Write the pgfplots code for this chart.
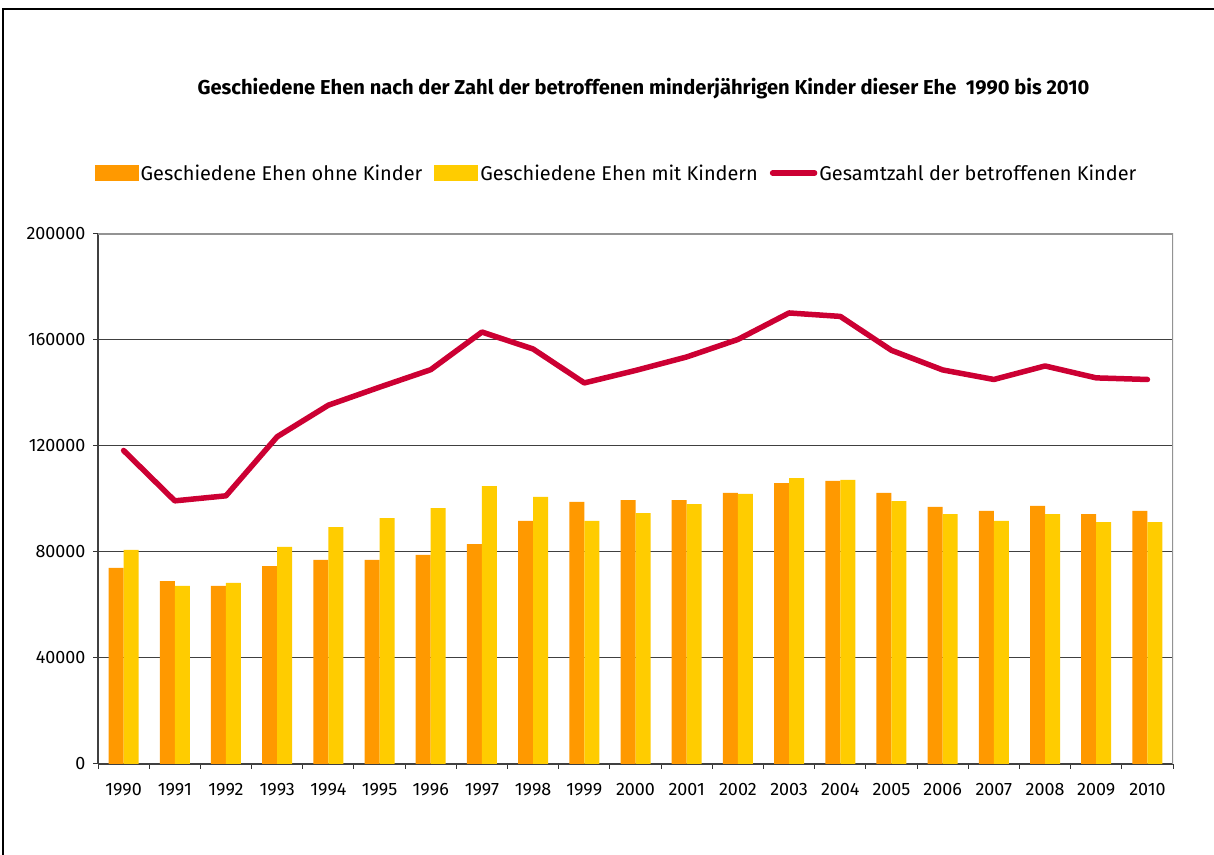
\documentclass[border=0pt]{standalone}
\usepackage{pgfplots}
\pgfplotsset{compat=1.18}
\usepackage{fontspec}
\setmainfont{Fira Sans}
\definecolor{cOr}{HTML}{FF9900}
\definecolor{cYe}{HTML}{FFCC00}
\definecolor{cRed}{HTML}{CC0033}
\begin{document}
\begin{tikzpicture}[x=1bp,y=1bp]
\useasboundingbox (0,0) rectangle (1214,855);
\fill[white] (0,0) rectangle (1214,855);
\draw[black, line width=1.8bp] (3,0) -- (3,846) -- (1214,846);
\node[font=\fontsize{20.2}{24}\selectfont\bfseries] at (643.5,766) {Geschiedene Ehen nach der Zahl der betroffenen minderjährigen Kinder dieser Ehe\ \ 1990 bis 2010};
\begin{axis}[
  at={(98bp,91bp)}, anchor=south west,
  width=1075bp, height=530bp, scale only axis,
  xmin=-0.5, xmax=20.5, ymin=0, ymax=200000,
  enlargelimits=false,
  axis x line*=bottom, axis y line*=left,
  axis line style={-, black!75, line width=1.5bp},
  xtick={0,...,20},
  xticklabels={1990,1991,1992,1993,1994,1995,1996,1997,1998,1999,2000,2001,2002,2003,2004,2005,2006,2007,2008,2009,2010},
  major x tick style={draw=none},
  minor xtick={-0.5,0.5,...,20.5},
  minor tick length=5bp, major tick length=5bp,
  tick align=outside,
  tick style={black!80, line width=1bp},
  ytick={0,40000,80000,120000,160000,200000},
  yticklabels={0,40000,80000,120000,160000,200000},
  scaled y ticks=false,
  ymajorgrids,
  major grid style={black!75, line width=1bp},
  ticklabel style={font=\fontsize{18}{20}\selectfont},
  yticklabel style={xshift=-4bp},
  xticklabel style={yshift=-11bp},
  legend style={at={(0.4823,1.115)}, anchor=center, draw=none, fill=none,
    legend columns=3, font=\fontsize{20}{24}\selectfont,
    /tikz/every even column/.append style={column sep=10bp}},
  legend cell align=left,
]
\addplot[ybar, bar width=15bp, bar shift=-7.5bp, fill=cOr, draw=none,
  legend image code/.code={\fill[cOr] (0bp,-7.5bp) rectangle (44bp,8bp);}]
  coordinates {(0,74000) (1,69000) (2,67200) (3,74700) (4,77000) (5,77000) (6,78900) (7,83000) (8,91700) (9,98900) (10,99600) (11,99600) (12,102300) (13,106000) (14,106800) (15,102300) (16,97000) (17,95500) (18,97400) (19,94300) (20,95500)};
\addlegendentry{Geschiedene Ehen ohne Kinder}
\addplot[ybar, bar width=15bp, bar shift=7.5bp, fill=cYe, draw=none,
  legend image code/.code={\fill[cYe] (0bp,-7.5bp) rectangle (44bp,8bp);}]
  coordinates {(0,80800) (1,67200) (2,68300) (3,81900) (4,89400) (5,92800) (6,96600) (7,104900) (8,100800) (9,91700) (10,94700) (11,98100) (12,101900) (13,107900) (14,107200) (15,99200) (16,94300) (17,91700) (18,94300) (19,91300) (20,91300)};
\addlegendentry{Geschiedene Ehen mit Kindern}
\addplot[sharp plot, cRed, line width=5.5bp, line join=round, line cap=round, mark=none,
  legend image code/.code={\draw[cRed, line width=5.5bp, line cap=round] (2bp,0bp) -- (44bp,0bp);}]
  coordinates {(0,118300) (1,99300) (2,101200) (3,123500) (4,135400) (5,142200) (6,148800) (7,163000) (8,156600) (9,143800) (10,148500) (11,153600) (12,160200) (13,170200) (14,168900) (15,156100) (16,148700) (17,145100) (18,150200) (19,145700) (20,145100)};
\addlegendentry{Gesamtzahl der betroffenen Kinder}
\draw[gray!85, line width=2bp] (rel axis cs:0,1) -- (rel axis cs:1,1) -- (rel axis cs:1,0);
\end{axis}
\end{tikzpicture}
\end{document}
